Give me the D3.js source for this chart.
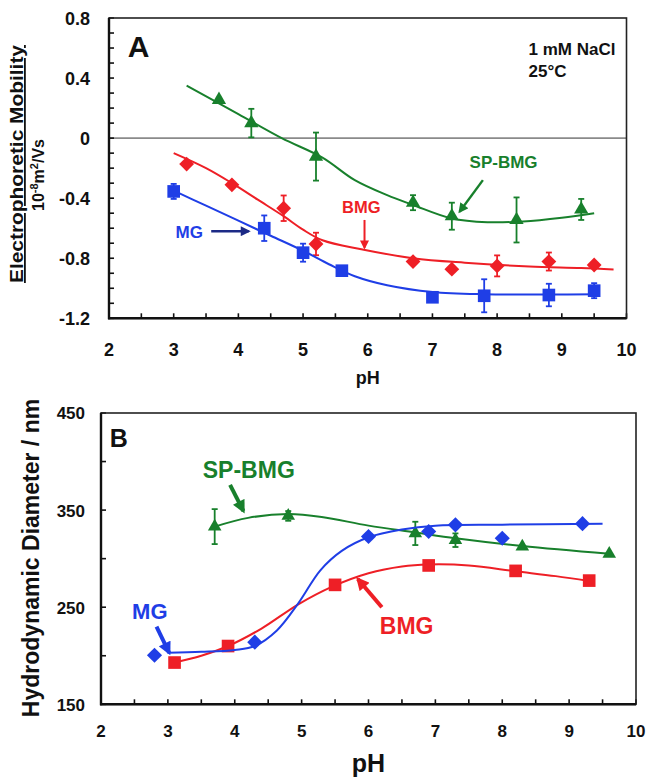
<!DOCTYPE html>
<html>
<head>
<meta charset="utf-8">
<script src="https://cdn.jsdelivr.net/npm/d3@7"></script>
<style>
  html, body { margin: 0; padding: 0; background: #fff; }
  svg { display: block; font-family: "Liberation Sans", Arial, sans-serif; font-weight: bold; }
</style>
</head>
<body>
<svg id="chart" width="646" height="777"></svg>
<script>
// ---- tick labels ----
const pHTicks = [2, 3, 4, 5, 6, 7, 8, 9, 10];
const mobilityTicks = [0.8, 0.4, 0, -0.4, -0.8, -1.2];
const diameterTicks = [450, 350, 250, 150];

// ---- panel A: electrophoretic mobility (10^-8 m2/Vs) ----
const mgMobPH  = [3.0, 4.4, 5.0, 5.6, 7.0, 7.8, 8.8, 9.5];
const mgMob    = [-0.355, -0.60, -0.763, -0.883, -1.06, -1.05, -1.045, -1.016];
const mgMobErr = [0.05, 0.085, 0.06, 0, 0, 0.11, 0.075, 0.05];

const bmgMobPH  = [3.2, 3.9, 4.7, 5.2, 6.7, 7.3, 8.0, 8.8, 9.5];
const bmgMob    = [-0.173, -0.311, -0.467, -0.705, -0.822, -0.873, -0.851, -0.822, -0.845];
const bmgMobErr = [0, 0, 0.085, 0.075, 0, 0, 0.07, 0.06, 0];

const spMobPH  = [3.7, 4.2, 5.2, 6.7, 7.3, 8.3, 9.3];
const spMob    = [0.255, 0.10, -0.123, -0.43, -0.52, -0.545, -0.475];
const spMobErr = [0, 0.095, 0.16, 0.05, 0.09, 0.15, 0.07];

// fitted trend lines, panel A
const mgMobFitPH  = [3.0, 3.5, 4.0, 4.5, 5.0, 5.4, 5.8, 6.3, 7.0, 7.8, 8.8, 9.55];
const mgMobFit    = [-0.35, -0.45, -0.55, -0.65, -0.75, -0.84, -0.92, -0.98, -1.025, -1.04, -1.042, -1.04];
const bmgMobFitPH = [3.0, 3.5, 3.9, 4.3, 4.7, 5.0, 5.3, 5.9, 6.7, 7.5, 8.5, 9.3, 9.8];
const bmgMobFit   = [-0.10, -0.20, -0.30, -0.41, -0.52, -0.61, -0.68, -0.74, -0.80, -0.83, -0.855, -0.865, -0.875];
const spMobFitPH  = [3.2, 4.0, 4.67, 5.3, 5.8, 6.3, 6.7, 7.3, 7.85, 8.4, 9.0, 9.5];
const spMobFit    = [0.35, 0.16, 0.0, -0.13, -0.28, -0.38, -0.445, -0.535, -0.56, -0.555, -0.53, -0.50];

// ---- panel B: hydrodynamic diameter (nm) ----
const mgDiaPH = [2.8, 4.3, 6.0, 6.9, 7.3, 8.0, 9.2];
const mgDia   = [200.5, 214, 322.8, 328, 334.8, 321, 336];
const bmgDiaPH = [3.1, 3.9, 5.5, 6.9, 8.2, 9.3];
const bmgDia   = [193, 210, 273, 293, 287.4, 277.4];
const spDiaPH  = [3.7, 4.8, 6.7, 7.3, 8.3, 9.6];
const spDia    = [333, 344, 326, 319, 312.5, 305];
const spDiaErr = [18, 5, 12, 7, 0, 0];

const mgDiaFitPH  = [3.0, 3.5, 4.0, 4.3, 4.63, 4.95, 5.28, 5.6, 6.0, 6.5, 7.0, 8.0, 9.5];
const mgDiaFit    = [203, 204, 206, 210, 226, 254, 288, 308, 322, 330, 334, 335, 336];
const bmgDiaFitPH = [3.1, 3.5, 3.9, 4.4, 4.95, 5.45, 6.0, 6.5, 6.9, 7.5, 8.2, 8.8, 9.3];
const bmgDiaFit   = [193, 200, 210, 228, 253, 271, 285, 292, 294, 293, 287, 282, 277];
const spDiaFitPH  = [3.7, 4.2, 4.8, 5.3, 6.0, 6.7, 7.3, 8.3, 9.6];
const spDiaFit    = [333, 342, 346, 343, 334, 327, 321, 313, 305];

// ---- colours ----
const GREEN = "#18802c", RED = "#ee1f26", BLUE = "#1f3ee6", NAVY = "#1c2a86";

const svg = d3.select("#chart");
const defs = svg.append("defs");

function arrowMarker(id, color, w, h) {
  defs.append("marker")
    .attr("id", id).attr("viewBox", "0 0 10 10")
    .attr("refX", 8).attr("refY", 5)
    .attr("markerWidth", w).attr("markerHeight", h)
    .attr("markerUnits", "userSpaceOnUse")
    .attr("orient", "auto")
    .append("path").attr("d", "M0,0 L10,5 L0,10 Z").attr("fill", color);
}
arrowMarker("hA-green", GREEN, 11, 10);
arrowMarker("hA-red", RED, 10, 9);
arrowMarker("hA-navy", NAVY, 11, 10);
arrowMarker("hB-green", GREEN, 14, 13);
arrowMarker("hB-red", RED, 14, 13);
arrowMarker("hB-blue", BLUE, 14, 13);

const zip = (xs, ys, es) => xs.map((x, i) => ({ x, y: ys[i], e: es ? es[i] : 0 }));

function drawPanel(cfg) {
  const { x, y, g } = cfg;
  const [x0, x1] = x.range(), [yb, yt] = y.range();

  // ticks pointing into the plot
  g.selectAll(".xt").data(d3.range(cfg.xMin, cfg.xMax + 0.001, 0.5)).join("line")
    .attr("x1", d => x(d)).attr("x2", d => x(d))
    .attr("y1", yb).attr("y2", yb - 5)
    .attr("stroke", "#111").attr("stroke-width", 1.6);
  g.selectAll(".yt").data(d3.range(cfg.yMin, cfg.yMax + cfg.yMinor / 2, cfg.yMinor)).join("line")
    .attr("x1", x0).attr("x2", x0 + 5)
    .attr("y1", d => y(d)).attr("y2", d => y(d))
    .attr("stroke", "#111").attr("stroke-width", 1.6);

  // frame
  g.append("rect").attr("x", x0).attr("y", yt).attr("width", x1 - x0).attr("height", yb - yt)
    .attr("fill", "none").attr("stroke", "#222").attr("stroke-width", 1.6);
  g.append("line").attr("x1", x0).attr("x2", x0).attr("y1", yt).attr("y2", yb + 1)
    .attr("stroke", "#111").attr("stroke-width", 2.4);
  g.append("line").attr("x1", x0 - 1).attr("x2", x1).attr("y1", yb).attr("y2", yb)
    .attr("stroke", "#111").attr("stroke-width", 2.4);

  // tick labels
  g.selectAll(".xl").data(pHTicks).join("text")
    .attr("x", d => x(d)).attr("y", yb + cfg.xLabelOffset)
    .attr("text-anchor", "middle").attr("font-size", cfg.tickFont).attr("fill", "#111")
    .text(d => d);
  g.selectAll(".yl").data(cfg.yTicks).join("text")
    .attr("x", x0 - cfg.yLabelGap).attr("y", d => y(d)).attr("dy", "0.38em")
    .attr("text-anchor", "end").attr("font-size", cfg.tickFont).attr("fill", "#111")
    .text(cfg.yFormat);
}

function drawSeries(g, x, y, pts, fit, color, symbolType, size, rotate, sw) {
  const line = d3.line().x(d => x(d.x)).y(d => y(d.y)).curve(d3.curveCatmullRom.alpha(0.5));
  g.append("path").datum(fit).attr("d", line)
    .attr("fill", "none").attr("stroke", color).attr("stroke-width", sw);

  const withErr = pts.filter(d => d.e > 0);
  const eb = g.append("g").attr("stroke", color).attr("stroke-width", 1.8);
  eb.selectAll("line.v").data(withErr).join("line")
    .attr("x1", d => x(d.x)).attr("x2", d => x(d.x))
    .attr("y1", d => y(d.y - d.e)).attr("y2", d => y(d.y + d.e));
  eb.selectAll("line.t").data(withErr).join("line")
    .attr("x1", d => x(d.x) - 3).attr("x2", d => x(d.x) + 3)
    .attr("y1", d => y(d.y + d.e)).attr("y2", d => y(d.y + d.e));
  eb.selectAll("line.b").data(withErr).join("line")
    .attr("x1", d => x(d.x) - 3).attr("x2", d => x(d.x) + 3)
    .attr("y1", d => y(d.y - d.e)).attr("y2", d => y(d.y - d.e));

  g.selectAll(null).data(pts).join("path")
    .attr("d", d3.symbol().type(symbolType).size(size))
    .attr("transform", d => `translate(${x(d.x)},${y(d.y)}) rotate(${rotate})`)
    .attr("fill", color);
}

function annotate(g, x, y, a) {
  g.append("text").attr("x", x(a.tx)).attr("y", y(a.ty))
    .attr("text-anchor", a.anchor || "middle").attr("font-size", a.size)
    .attr("fill", a.color).text(a.text);
  if (a.ax0 !== undefined) {
    g.append("line")
      .attr("x1", x(a.ax0)).attr("y1", y(a.ay0)).attr("x2", x(a.ax1)).attr("y2", y(a.ay1))
      .attr("stroke", a.arrowColor || a.color).attr("stroke-width", a.aw)
      .attr("marker-end", `url(#${a.marker})`);
  }
}

// ================= Panel A =================
{
  const x = d3.scaleLinear().domain([2, 10]).range([109, 626.5]);
  const y = d3.scaleLinear().domain([-1.2, 0.8]).range([318.3, 18]);
  const g = svg.append("g");

  // zero line
  g.append("line").attr("x1", x(2)).attr("x2", x(10)).attr("y1", y(0)).attr("y2", y(0))
    .attr("stroke", "#8a8a8a").attr("stroke-width", 1.6);

  drawPanel({ x, y, g, xMin: 2, xMax: 10, yMin: -1.2, yMax: 0.8, yMinor: 0.1,
    yTicks: mobilityTicks, yFormat: d => d, tickFont: 18, xLabelOffset: 38, yLabelGap: 19 });

  drawSeries(g, x, y, zip(spMobPH, spMob, spMobErr), zip(spMobFitPH, spMobFit), GREEN, d3.symbolTriangle, 88, 0, 2);
  drawSeries(g, x, y, zip(bmgMobPH, bmgMob, bmgMobErr), zip(bmgMobFitPH, bmgMobFit), RED, d3.symbolSquare, 110, 45, 2);
  drawSeries(g, x, y, zip(mgMobPH, mgMob, mgMobErr), zip(mgMobFitPH, mgMobFit), BLUE, d3.symbolSquare, 160, 0, 2);

  // axis titles
  g.append("text").attr("x", x(6)).attr("y", 384).attr("text-anchor", "middle")
    .attr("font-size", 18).attr("fill", "#111").text("pH");
  g.append("text").attr("transform", "translate(23,164) rotate(-90)")
    .attr("text-anchor", "middle").attr("font-size", 18).attr("fill", "#111")
    .attr("text-decoration", "underline")
    .attr("textLength", 238).attr("lengthAdjust", "spacingAndGlyphs")
    .text("Electrophoretic Mobility");
  const unit = g.append("text").attr("transform", "translate(44,175) rotate(-90)")
    .attr("text-anchor", "middle").attr("font-size", 16).attr("fill", "#111");
  unit.append("tspan").text("10");
  unit.append("tspan").attr("font-size", 11).attr("dy", -6).text("-8");
  unit.append("tspan").attr("dy", 6).text("m");
  unit.append("tspan").attr("font-size", 11).attr("dy", -6).text("2");
  unit.append("tspan").attr("dy", 6).text("/Vs");

  annotate(g, x, y, { text: "A", tx: 2.29, ty: 0.542, anchor: "start", size: 30, color: "#111" });
  annotate(g, x, y, { text: "1 mM NaCl", tx: 8.486, ty: 0.555, anchor: "start", size: 17, color: "#111" });
  annotate(g, x, y, { text: "25°C", tx: 8.486, ty: 0.41, anchor: "start", size: 17, color: "#111" });

  annotate(g, x, y, { text: "SP-BMG", tx: 8.1, ty: -0.2, size: 17, color: GREEN,
    ax0: 7.78, ay0: -0.28, ax1: 7.42, ay1: -0.49, aw: 2.4, marker: "hA-green" });
  annotate(g, x, y, { text: "BMG", tx: 5.9, ty: -0.5, size: 16.5, color: RED,
    ax0: 5.95, ay0: -0.545, ax1: 5.95, ay1: -0.73, aw: 2, marker: "hA-red" });
  annotate(g, x, y, { text: "MG", tx: 3.24, ty: -0.665, size: 17, color: BLUE,
    ax0: 3.58, ay0: -0.62, ax1: 4.16, ay1: -0.62, aw: 2.4, arrowColor: NAVY, marker: "hA-navy" });
}

// ================= Panel B =================
{
  const x = d3.scaleLinear().domain([2, 10]).range([101, 636]);
  const y = d3.scaleLinear().domain([150, 450]).range([704.3, 413]);
  const g = svg.append("g");

  drawPanel({ x, y, g, xMin: 2, xMax: 10, yMin: 150, yMax: 450, yMinor: 50,
    yTicks: diameterTicks, yFormat: d => d, tickFont: 17, xLabelOffset: 33, yLabelGap: 16 });

  drawSeries(g, x, y, zip(spDiaPH, spDia, spDiaErr), zip(spDiaFitPH, spDiaFit), GREEN, d3.symbolTriangle, 80, 0, 2);
  drawSeries(g, x, y, zip(bmgDiaPH, bmgDia), zip(bmgDiaFitPH, bmgDiaFit), RED, d3.symbolSquare, 160, 0, 2);
  drawSeries(g, x, y, zip(mgDiaPH, mgDia), zip(mgDiaFitPH, mgDiaFit), BLUE, d3.symbolSquare, 115, 45, 2);

  g.append("text").attr("x", x(6)).attr("y", 772).attr("text-anchor", "middle")
    .attr("font-size", 25).attr("fill", "#111").text("pH");
  g.append("text").attr("transform", "translate(39,558) rotate(-90)")
    .attr("text-anchor", "middle").attr("font-size", 23).attr("fill", "#111")
    .text("Hydrodynamic Diameter / nm");

  annotate(g, x, y, { text: "B", tx: 2.13, ty: 415, anchor: "start", size: 25, color: "#111" });
  annotate(g, x, y, { text: "SP-BMG", tx: 4.21, ty: 383, size: 23, color: GREEN,
    ax0: 3.93, ay0: 376, ax1: 4.13, ay1: 349, aw: 4, marker: "hB-green" });
  annotate(g, x, y, { text: "MG", tx: 2.73, ty: 238, size: 22, color: BLUE,
    ax0: 2.83, ay0: 230, ax1: 3.02, ay1: 203, aw: 4, marker: "hB-blue" });
  annotate(g, x, y, { text: "BMG", tx: 6.57, ty: 222.4, size: 23, color: RED,
    ax0: 6.2, ay0: 250, ax1: 5.84, ay1: 279, aw: 4, marker: "hB-red" });
}
</script>
</body>
</html>
